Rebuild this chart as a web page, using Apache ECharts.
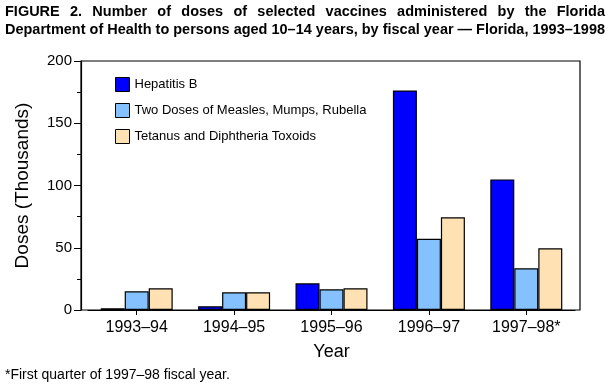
<!DOCTYPE html>
<html>
<head>
<meta charset="utf-8">
<script src="https://cdn.jsdelivr.net/npm/echarts@6/dist/echarts.min.js"></script>
<style>
html,body{margin:0;padding:0;background:#fff;}
#chart{width:616px;height:391px;}
</style>
</head>
<body>
<div id="chart"></div>
<script>
var categories = ['1993\u201394', '1994\u201395', '1995\u201396', '1996\u201397', '1997\u201398*'];
var hepatitisB = [1.4, 3.0, 21.4, 176.3, 104.9];
var mmrTwoDoses = [15.0, 14.2, 16.6, 57.2, 33.5];
var tdToxoids = [17.4, 14.2, 17.4, 74.4, 49.5];
var seriesNames = ['Hepatitis B', 'Two Doses of Measles, Mumps, Rubella', 'Tetanus and Diphtheria Toxoids'];
var yTicks = [0, 50, 100, 150, 200];
var titleLine1 = 'FIGURE 2. Number of doses of selected vaccines administered by the Florida';
var titleLine2 = 'Department of Health to persons aged 10\u201314 years, by fiscal year \u2014 Florida, 1993\u20131998';
var footnote = '*First quarter of 1997\u201398 fiscal year.';

var FONT = '"Liberation Sans", Arial, Helvetica, sans-serif';
var colors = ['#0000FF', '#85C1FF', '#FFE1B3'];

// title layout (justified first line, compressed to fit)
var titleLeft = 5, titleRight = 605, titleSize = 15;
var cv = document.createElement('canvas').getContext('2d');
cv.font = 'bold ' + titleSize + 'px ' + FONT;
var w2 = cv.measureText(titleLine2).width;
var sx = Math.min(1, (titleRight - titleLeft) / w2);
var words = titleLine1.split(' ');
var wordW = words.map(function (w) { return cv.measureText(w).width * sx; });
var sumW = wordW.reduce(function (a, b) { return a + b; }, 0);
var gap = (titleRight - titleLeft - sumW) / (words.length - 1);
var graphics = [];
var cx = titleLeft;
words.forEach(function (w, i) {
  graphics.push({
    type: 'text', x: cx, y: 12, scaleX: sx,
    style: { text: w, x: 0, y: 0, font: 'bold ' + titleSize + 'px ' + FONT, fill: '#000', textAlign: 'left', textVerticalAlign: 'middle' }
  });
  cx += wordW[i] + gap;
});
graphics.push({
  type: 'text', x: titleLeft, y: 30, scaleX: sx,
  style: { text: titleLine2, x: 0, y: 0, font: 'bold ' + titleSize + 'px ' + FONT, fill: '#000', textAlign: 'left', textVerticalAlign: 'middle' }
});
graphics.push({
  type: 'text', x: 5, y: 375,
  style: { text: footnote, x: 0, y: 0, font: '14px ' + FONT, fill: '#000', textAlign: 'left', textVerticalAlign: 'middle' }
});

var barStyle = function (c) { return { color: c, borderColor: '#000', borderWidth: 1.2 }; };
var dataSets = [hepatitisB, mmrTwoDoses, tdToxoids];

var chart = echarts.init(document.getElementById('chart'), null, { renderer: 'canvas' });
chart.setOption({
  animation: false,
  backgroundColor: '#fff',
  textStyle: { fontFamily: FONT },
  graphic: graphics,
  legend: {
    orient: 'vertical', left: 110, top: 72,
    itemWidth: 14, itemHeight: 14, itemGap: 11,
    icon: 'rect',
    itemStyle: { borderColor: '#000', borderWidth: 1 },
    textStyle: { fontSize: 13, color: '#000', fontFamily: FONT },
    data: seriesNames
  },
  grid: [
    { left: 81, right: 36, top: 61, bottom: 81, show: true, borderColor: '#000', borderWidth: 1.2, backgroundColor: 'transparent' },
    { left: 88, right: 41, top: 61, bottom: 81 }
  ],
  xAxis: [
    { type: 'value', gridIndex: 0, min: 0, max: 1, show: false },
    {
      type: 'category', gridIndex: 1, data: categories,
      axisLine: { show: true, lineStyle: { color: '#000', width: 1.2 } },
      axisTick: { show: true, alignWithLabel: true, length: 5, lineStyle: { color: '#000' } },
      axisLabel: { fontSize: 16, color: '#000', margin: 10, fontFamily: FONT },
      name: 'Year', nameLocation: 'middle', nameGap: 33,
      nameTextStyle: { fontSize: 18, color: '#000', fontFamily: FONT }
    }
  ],
  yAxis: [
    {
      type: 'value', gridIndex: 0, min: yTicks[0], max: yTicks[yTicks.length - 1], interval: yTicks[1] - yTicks[0],
      axisLine: { show: true, lineStyle: { color: '#000', width: 1.2 } },
      axisTick: { show: true, length: 7, lineStyle: { color: '#000' } },
      minorTick: { show: true, splitNumber: 2, length: 4, lineStyle: { color: '#000' } },
      splitLine: { show: false },
      axisLabel: { fontSize: 15, color: '#000', margin: 9, fontFamily: FONT },
      name: 'Doses (Thousands)', nameLocation: 'middle', nameGap: 49,
      nameTextStyle: { fontSize: 19, color: '#000', fontFamily: FONT }
    },
    { type: 'value', gridIndex: 1, min: yTicks[0], max: yTicks[yTicks.length - 1], show: false }
  ],
  series: seriesNames.map(function (n, i) {
    return {
      name: n, type: 'bar', xAxisIndex: 1, yAxisIndex: 1,
      data: dataSets[i], barWidth: 24, barGap: '0%',
      itemStyle: barStyle(colors[i])
    };
  })
});
</script>
</body>
</html>
